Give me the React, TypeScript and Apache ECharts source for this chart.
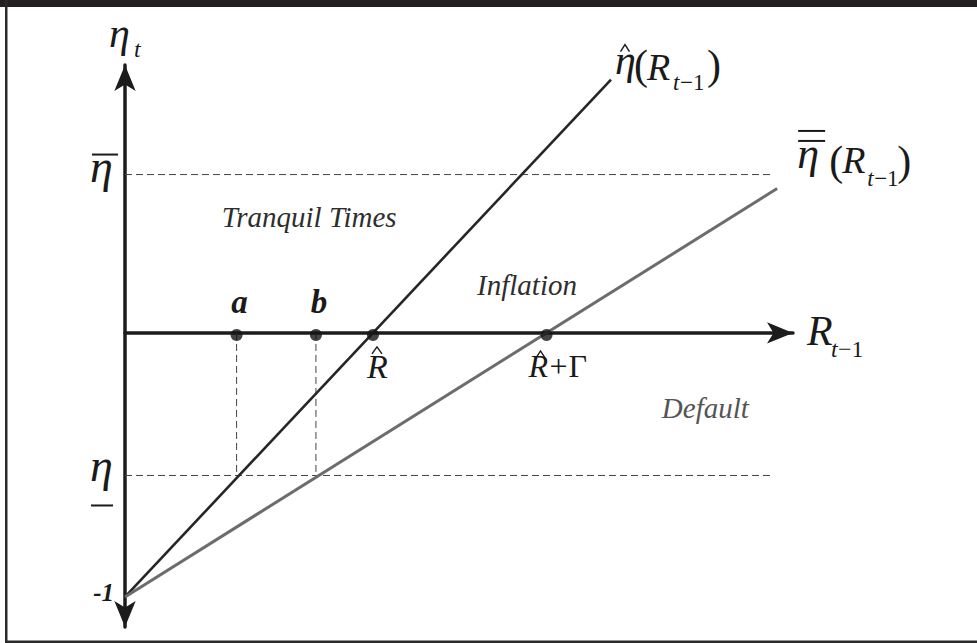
import React, { useEffect, useRef } from "react";
import * as echarts from "echarts";

// ---- data (model units: R_{t-1} on x, eta_t on y) ----
const X_RANGE = [0, 2.694];
const Y_RANGE = [-1.114, 1.015];
const ETA_HIGH = 0.6; // upper threshold  (eta bar)
const ETA_LOW = -0.54; // lower threshold (eta underbar)
const DASH_END_X = 2.61;
const POINT_A = 0.45;
const POINT_B = 0.77;
const R_HAT = 1;
const R_HAT_GAMMA = 1.7;
const ETA_HAT_LINE = [
  [0, -1],
  [1.96, 0.96],
];
const ETA_BARBAR_LINE = [
  [0, -1],
  [2.63, 0.547],
];
const REGION_NAMES = ["Tranquil Times", "Inflation", "Default"];
const REGION_ANCHORS = [
  [0.39, 0.4],
  [1.42, 0.144],
  [2.165, -0.322],
];
const POINT_NAMES = ["a", "b"];

const SERIF = "Liberation Serif";

type TOpt = { italic?: boolean; bold?: boolean; fill?: string; align?: string };
function T(text: string, x: number, base: number, size: number, opt: TOpt = {}) {
  const { italic = true, bold = false, fill = "#1a1a1a", align = "left" } = opt;
  return {
    type: "text",
    silent: true,
    z: 100,
    x,
    y: base - 0.34 * size,
    style: {
      text,
      fontFamily: SERIF,
      fontSize: size,
      fontStyle: italic ? "italic" : "normal",
      fontWeight: bold ? "bold" : "normal",
      fill,
      textAlign: align,
      textVerticalAlign: "middle",
      align,
      verticalAlign: "middle",
    },
  };
}
function hat(cx: number, apex: number, base: number, w = 10) {
  return {
    type: "polyline",
    silent: true,
    z: 100,
    shape: {
      points: [
        [cx - w / 2, base],
        [cx, apex],
        [cx + w / 2, base],
      ],
    },
    style: { stroke: "#1a1a1a", lineWidth: 1.4, fill: null },
  };
}
function hline(x1: number, x2: number, y: number, w = 2) {
  return {
    type: "line",
    silent: true,
    z: 100,
    shape: { x1, y1: y, x2, y2: y },
    style: { stroke: "#1a1a1a", lineWidth: w },
  };
}

export default function App() {
  const ref = useRef<HTMLDivElement>(null);
  useEffect(() => {
    document.body.style.margin = "0";
    const chart = echarts.init(ref.current!, null, { renderer: "svg" });
    const dashed = (data: number[][]) => ({
      type: "line",
      data,
      symbol: "none",
      silent: true,
      clip: false,
      lineStyle: { color: "#444444", width: 1, type: [7, 4] },
      z: 1,
    });
    const axisCommon = {
      type: "value",
      axisTick: { show: false },
      axisLabel: { show: false },
      splitLine: { show: false },
    };
    chart.setOption({
      animation: false,
      backgroundColor: "#ffffff",
      grid: {
        left: 125,
        right: 977 - 793,
        top: 65,
        bottom: 643 - 627,
        containLabel: false,
        outerBoundsMode: "none",
      },
      xAxis: {
        ...axisCommon,
        min: X_RANGE[0],
        max: X_RANGE[1],
        axisLine: {
          show: true,
          onZero: true,
          symbol: ["none", "arrow"],
          symbolSize: [16, 26],
          lineStyle: { color: "#1c1c1c", width: 3.5 },
        },
      },
      yAxis: {
        ...axisCommon,
        min: Y_RANGE[0],
        max: Y_RANGE[1],
        axisLine: {
          show: true,
          onZero: true,
          symbol: ["arrow", "arrow"],
          symbolSize: [16, 26],
          lineStyle: { color: "#1c1c1c", width: 3.5 },
        },
      },
      series: [
        dashed([
          [0, ETA_HIGH],
          [DASH_END_X, ETA_HIGH],
        ]),
        dashed([
          [0, ETA_LOW],
          [DASH_END_X, ETA_LOW],
        ]),
        dashed([
          [POINT_A, 0],
          [POINT_A, ETA_LOW],
        ]),
        dashed([
          [POINT_B, 0],
          [POINT_B, ETA_LOW],
        ]),
        {
          type: "line",
          name: "eta hat",
          data: ETA_HAT_LINE,
          symbol: "none",
          clip: false,
          lineStyle: { color: "#262626", width: 2.6 },
          z: 3,
        },
        {
          type: "line",
          name: "eta double bar",
          data: ETA_BARBAR_LINE,
          symbol: "none",
          clip: false,
          lineStyle: { color: "#6c6c6c", width: 3 },
          z: 3,
        },
        {
          type: "scatter",
          data: [
            [POINT_A, 0],
            [POINT_B, 0],
            [R_HAT, 0],
            [R_HAT_GAMMA, 0],
          ],
          symbolSize: 12,
          symbolOffset: [0, 2],
          itemStyle: { color: "#141414" },
          z: 5,
        },
      ],
    });

    const P = (x: number, y: number) => chart.convertToPixel({ gridIndex: 0 }, [x, y]) as number[];
    const g: any[] = [];
    // frame
    g.push({ type: "rect", silent: true, z: 100, shape: { x: 0, y: 0, width: 977, height: 7 }, style: { fill: "#231f20" } });
    g.push({ type: "rect", silent: true, z: 100, shape: { x: 5, y: 0, width: 2.5, height: 643 }, style: { fill: "#2a2a2a" } });
    g.push({ type: "rect", silent: true, z: 100, shape: { x: 5, y: 640.5, width: 972, height: 2.5 }, style: { fill: "#2a2a2a" } });

    // eta_t
    const O = P(0, Y_RANGE[1]);
    g.push(T("η", O[0] - 16, O[1] - 18, 42));
    g.push(T("t", O[0] + 9, O[1] - 8, 24));
    // eta bar
    const H = P(0, ETA_HIGH);
    g.push(T("η", H[0] - 35, H[1] + 8, 46));
    g.push(hline(H[0] - 33, H[0] - 7, H[1] - 20));
    // eta underbar
    const L = P(0, ETA_LOW);
    g.push(T("η", L[0] - 35, L[1] + 6, 46));
    g.push(hline(L[0] - 34, L[0] - 12, L[1] + 30));
    // -1
    const M = P(0, -1);
    g.push(T("-1", M[0] - 11, M[1] + 4, 25, { bold: true, align: "right" }));
    // a, b
    [POINT_A, POINT_B].forEach((v, i) => {
      const p = P(v, 0);
      g.push(T(POINT_NAMES[i], p[0] + 3, p[1] - 20, 33, { bold: true, align: "center" }));
    });
    // R hat
    const RH = P(R_HAT, 0);
    g.push(T("R", RH[0] - 6, RH[1] + 45, 34));
    g.push(hat(RH[0] + 4, RH[1] + 14, RH[1] + 21));
    // R hat + Gamma
    const RG = P(R_HAT_GAMMA, 0);
    g.push(T("R", RG[0] - 18, RG[1] + 44, 32));
    g.push(T("+", RG[0] + 3, RG[1] + 44, 32, { italic: false }));
    g.push(T("Γ", RG[0] + 22, RG[1] + 44, 32, { italic: false }));
    g.push(hat(RG[0] - 6, RG[1] + 18, RG[1] + 25, 9));
    // R_{t-1} axis label
    const X = P(X_RANGE[1], 0);
    g.push(T("R", X[0] + 14, X[1] + 12, 42));
    g.push(T("t", X[0] + 38, X[1] + 24, 24));
    g.push(T("−1", X[0] + 45, X[1] + 24, 24, { italic: false }));
    // eta hat (R_{t-1})
    const E = P(ETA_HAT_LINE[1][0], ETA_HAT_LINE[1][1]);
    g.push(T("η", E[0] + 4, E[1] - 5, 42));
    g.push(hat(E[0] + 14, E[1] - 35, E[1] - 28, 9));
    g.push(T("(", E[0] + 23, E[1] + 0, 42, { italic: false }));
    g.push(T("R", E[0] + 36, E[1] + 0, 38));
    g.push(T("t", E[0] + 62, E[1] + 11, 23));
    g.push(T("−1", E[0] + 69, E[1] + 11, 23, { italic: false }));
    g.push(T(")", E[0] + 96, E[1] + 0, 42, { italic: false }));
    // eta double bar (R_{t-1})
    const G = P(ETA_BARBAR_LINE[1][0], ETA_BARBAR_LINE[1][1]);
    g.push(T("η", G[0] + 20, G[1] - 20, 44));
    g.push(hline(G[0] + 21, G[0] + 48, G[1] - 57.6));
    g.push(hline(G[0] + 21, G[0] + 48, G[1] - 47.6));
    g.push(T("(", G[0] + 52, G[1] - 13.6, 42, { italic: false }));
    g.push(T("R", G[0] + 65, G[1] - 15.6, 38));
    g.push(T("t", G[0] + 90, G[1] - 2.6, 23));
    g.push(T("−1", G[0] + 97, G[1] - 2.6, 23, { italic: false }));
    g.push(T(")", G[0] + 120, G[1] - 13.6, 42, { italic: false }));
    // region labels
    const regionFill = ["#2e2e2e", "#2e2e2e", "#555555"];
    REGION_NAMES.forEach((name, i) => {
      const p = P(REGION_ANCHORS[i][0], REGION_ANCHORS[i][1]);
      g.push(T(name, p[0], p[1], 29, { fill: regionFill[i] }));
    });

    chart.setOption({ graphic: g });
    return () => chart.dispose();
  }, []);
  return <div ref={ref} style={{ position: "absolute", left: 0, top: 0, width: 977, height: 643 }} />;
}
